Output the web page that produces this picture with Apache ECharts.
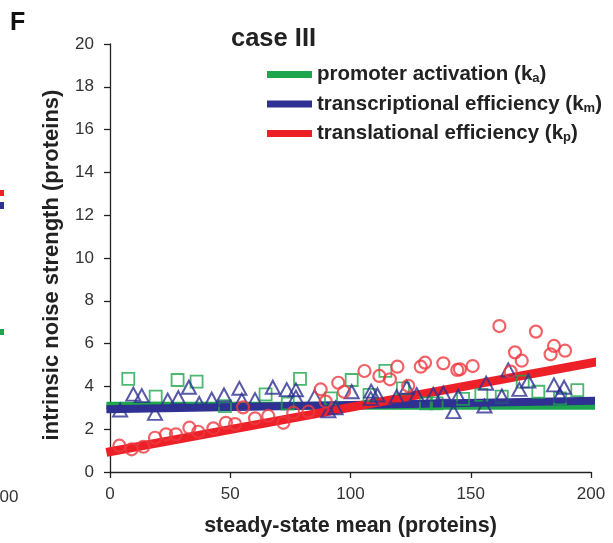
<!DOCTYPE html>
<html><head><meta charset="utf-8">
<script src="https://cdn.jsdelivr.net/npm/echarts@6/dist/echarts.min.js"></script>
<style>html,body{margin:0;padding:0;background:#fff}#c{width:613px;height:543px}</style>
</head><body><div id="c"></div>
<script>
// ---- data ----
const xTicks = [0, 50, 100, 150, 200];
const yTicks = [0, 2, 4, 6, 8, 10, 12, 14, 16, 18, 20];
const seriesNames = ['promoter activation (ka)', 'transcriptional efficiency (km)', 'translational efficiency (kp)'];
const legendLabels = ['promoter activation (k{s|a})', 'transcriptional efficiency (k{s|m})', 'translational efficiency (k{s|p})'];

// promoter activation (ka) – green squares
const promoterPoints = [
  [7.6,4.35],[19,3.52],[28.1,4.3],[36,4.22],[47.8,3.08],[64.7,3.63],[73.9,3.2],[79,4.35],
  [91.9,3.44],[100.5,4.3],[107.9,3.6],[114.5,4.73],[121.8,3.91],[131.4,3.21],[135.8,3.21],
  [146.8,3.42],[154.4,3.6],[162.9,3.52],[171.6,4.22],[178.1,3.75],[187.1,3.44],[194.3,3.83]
];
// transcriptional efficiency (km) – blue triangles
const transcriptionPoints = [
  [4.2,2.9],[9.7,3.64],[13.2,3.57],[18.7,2.74],[24,3.36],[28.4,3.47],[32.8,3.96],[37.1,3.2],
  [42.3,3.4],[47.4,3.6],[53.8,3.91],[54.8,3.36],[60.3,3.38],[67.7,3.96],[73.5,3.85],[77.3,3.84],
  [77.3,3.5],[85.1,3.52],[90.8,2.86],[93.8,3.0],[100.5,3.75],[108.6,3.78],[108.4,3.44],[111.2,3.6],
  [119.2,3.52],[123.4,3.96],[127.5,3.62],[134.4,3.63],[138.6,3.68],[142.8,2.82],[144.8,3.55],
  [156.4,4.15],[155.7,3.08],[162.9,3.55],[165.6,4.77],[170.2,3.86],[173.9,4.25],[184.6,4.07],
  [188.8,3.96],[187.1,3.6]
];
// translational efficiency (kp) – red circles
const translationPoints = [
  [3.9,1.23],[9,1.06],[13.9,1.18],[18.7,1.6],[23.3,1.76],[27.4,1.76],[33,2.07],[36.7,1.88],
  [43,2.04],[48.2,2.3],[52,2.24],[55.3,3.02],[60.3,2.51],[65.8,2.62],[72.1,2.3],[76.2,2.77],
  [82.5,2.82],[87.6,3.86],[89.7,3.29],[94.9,4.17],[97.3,3.75],[105.8,4.72],[112,4.49],[116.4,4.33],
  [119.5,4.92],[124,4.03],[129.2,4.92],[131,5.11],[138.6,5.08],[144.4,4.77],[145.5,4.8],[150.8,4.95],
  [161.9,6.82],[166.6,4.69],[168.4,5.59],[171.2,5.2],[177.1,6.56],[183.2,5.5],[184.6,5.89],[189.2,5.67]
];
// fitted lines
const promoterFit = [[-1.5, 3.1], [203, 3.1]];
const transcriptionFit = [[-1.5, 2.93], [203, 3.33]];
const translationFit = [[-1.5, 0.92], [203, 5.16]];

// ---- styles ----
const FONT = 'Liberation Sans, Arial, Helvetica, sans-serif';
const GREEN = '#1ea64c', BLUE = '#2e3192', RED = '#ed2028';
const RED_PT = '#ee3a40';

const chart = echarts.init(document.getElementById('c'), null, {renderer: 'canvas'});
const labelMap = {};
seriesNames.forEach((n, i) => labelMap[n] = legendLabels[i]);

chart.setOption({
  animation: false,
  backgroundColor: '#fff',
  title: [
    {text: 'F', left: 5, top: 6, textStyle: {fontFamily: FONT, fontSize: 25, fontWeight: 'bold', color: '#111'}},
    {text: 'case III', left: 226, top: 21, textStyle: {fontFamily: FONT, fontSize: 25.5, fontWeight: 'bold', color: '#222'}}
  ],
  grid: {left: 110, right: 22, top: 44, bottom: 71, containLabel: false},
  legend: {
    orient: 'vertical', left: 262, top: 59, itemWidth: 45, itemHeight: 7, itemGap: 8.5,
    icon: 'rect', selectedMode: false,
    data: seriesNames,
    formatter: n => labelMap[n],
    textStyle: {fontFamily: FONT, fontSize: 20.5, fontWeight: 'bold', color: '#222',
      rich: {s: {fontFamily: FONT, fontSize: 13, fontWeight: 'bold', color: '#222', verticalAlign: 'bottom', padding: [6, 0, 0, 0]}}}
  },
  xAxis: {
    type: 'value', min: xTicks[0], max: xTicks[xTicks.length - 1], interval: 50,
    name: 'steady-state mean (proteins)', nameLocation: 'middle', nameGap: 43,
    nameTextStyle: {fontFamily: FONT, fontSize: 21.5, fontWeight: 'bold', color: '#222'},
    axisLine: {show: true, onZero: false, lineStyle: {color: '#222', width: 1.3}},
    axisTick: {show: true, inside: false, length: 6, lineStyle: {color: '#222', width: 1.3}},
    axisLabel: {fontFamily: FONT, fontSize: 17, color: '#333', margin: 14},
    splitLine: {show: false}
  },
  yAxis: {
    type: 'value', min: yTicks[0], max: yTicks[yTicks.length - 1], interval: 2,
    name: 'intrinsic noise strength (proteins)', nameLocation: 'middle', nameGap: 47,
    nameTextStyle: {fontFamily: FONT, fontSize: 22, fontWeight: 'bold', color: '#222', padding: [0, 14, 0, 0]},
    axisLine: {show: true, onZero: false, lineStyle: {color: '#222', width: 1.3}},
    axisTick: {show: true, inside: false, length: 6, lineStyle: {color: '#222', width: 1.3}},
    axisLabel: {fontFamily: FONT, fontSize: 17, color: '#333', margin: 16},
    splitLine: {show: false}
  },
  series: [
    {name: seriesNames[0], type: 'line', data: promoterFit, clip: false, showSymbol: false, symbol: 'none',
     color: GREEN, lineStyle: {color: GREEN, width: 8, cap: 'butt'}, z: 2},
    {name: seriesNames[1], type: 'line', data: transcriptionFit, clip: false, showSymbol: false, symbol: 'none',
     color: BLUE, lineStyle: {color: BLUE, width: 8, cap: 'butt'}, z: 3},
    {name: seriesNames[2], type: 'line', data: translationFit, clip: false, showSymbol: false, symbol: 'none',
     color: RED, lineStyle: {color: RED, width: 9, cap: 'butt'}, z: 4},
    {name: 'promoter pts', type: 'scatter', data: promoterPoints, symbol: 'rect', symbolSize: 12,
     itemStyle: {color: 'rgba(0,0,0,0)', borderColor: GREEN, borderWidth: 1.8}, z: 5},
    {name: 'transcription pts', type: 'scatter', data: transcriptionPoints, symbol: 'triangle', symbolSize: [14, 13],
     itemStyle: {color: 'rgba(0,0,0,0)', borderColor: BLUE, borderWidth: 2}, z: 6},
    {name: 'translation pts', type: 'scatter', data: translationPoints, symbol: 'circle', symbolSize: 12,
     itemStyle: {color: 'rgba(0,0,0,0)', borderColor: RED_PT, borderWidth: 2.2}, z: 7}
  ],
  graphic: [
    {type: 'rect', left: 0, top: 190, shape: {width: 4, height: 6}, style: {fill: RED}},
    {type: 'rect', left: 0, top: 202, shape: {width: 4, height: 7}, style: {fill: BLUE}},
    {type: 'rect', left: 0, top: 329, shape: {width: 4, height: 6}, style: {fill: GREEN}},
    {type: 'text', left: -10, top: 489, style: {text: '200', font: '17px ' + FONT, fill: '#333'}}
  ]
});
</script></body></html>
